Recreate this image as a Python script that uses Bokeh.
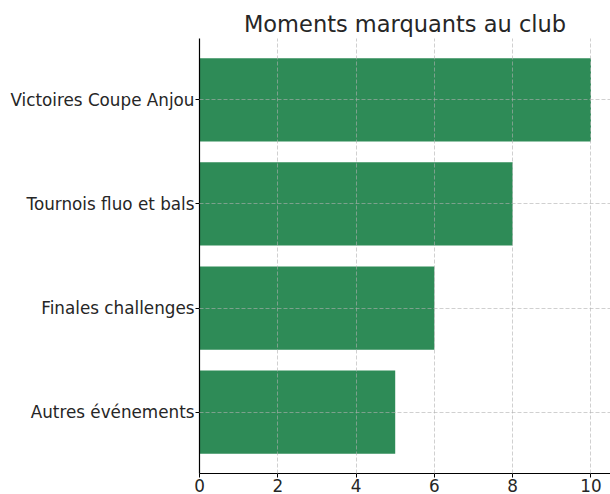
from bokeh.plotting import figure
from bokeh.models import FixedTicker, Range1d, ColumnDataSource
from bokeh.embed import file_html
from bokeh.resources import INLINE

categories = ["Autres événements", "Finales challenges", "Tournois fluo et bals", "Victoires Coupe Anjou"]
values = [5, 6, 8, 10]
x_ticks = [0, 2, 4, 6, 8, 10]

positions = list(range(len(categories)))
source = ColumnDataSource(dict(y=positions, v=values, cat=categories))

p = figure(width=610, height=494, output_backend="svg", toolbar_location=None,
           x_range=Range1d(0, 10.5), y_range=Range1d(-0.59, 3.59),
           min_border_left=199, min_border_right=0, min_border_top=38, min_border_bottom=0)

p.hbar(y="y", right="v", left=0, height=0.8, source=source,
       fill_color="#2E8B57", line_color=None)

p.title.text = "Moments marquants au club"
p.title.align = "center"
p.title.text_font = "DejaVu Sans"
p.title.text_font_size = "22.5px"
p.title.text_font_style = "normal"
p.title.text_color = "#262626"
p.title.standoff = 4

p.outline_line_color = None

p.xaxis.ticker = FixedTicker(ticks=x_ticks)
p.yaxis.ticker = FixedTicker(ticks=positions)
p.yaxis.major_label_overrides = {i: c for i, c in zip(positions, categories)}

for ax in (p.xaxis[0], p.yaxis[0]):
    ax.major_label_text_font = "DejaVu Sans"
    ax.major_label_text_font_size = "16.8px"
    ax.major_label_text_color = "#262626"
    ax.axis_line_color = "#000000"
    ax.axis_line_width = 1.2
    ax.major_tick_line_color = "#000000"
    ax.major_tick_in = 0
    ax.major_tick_out = 4
    ax.minor_tick_line_color = None
    ax.major_label_standoff = 1

for g in (p.xgrid[0], p.ygrid[0]):
    g.grid_line_color = "#b0b0b0"
    g.grid_line_alpha = 0.6
    g.grid_line_dash = "4 2"
    g.grid_line_width = 1
    g.level = "overlay"

open("out.html", "w").write(file_html(p, INLINE))
